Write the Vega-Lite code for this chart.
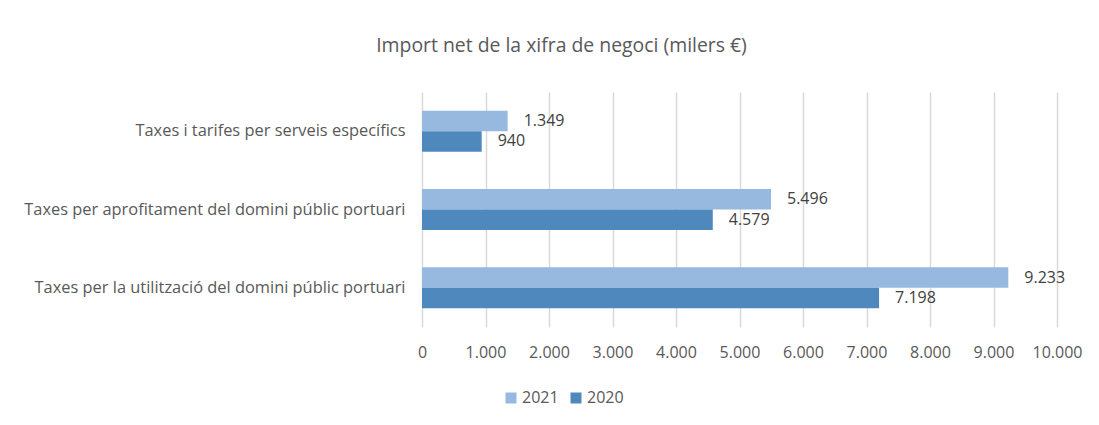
{
  "$schema": "https://vega.github.io/schema/vega-lite/v6.json",
  "autosize": {"type": "none"},
  "padding": {"left": 422, "top": 92, "right": 42, "bottom": 98},
  "width": 635,
  "height": 235,
  "background": "white",
  "config": {
    "locale": {"number": {"decimal": ",", "thousands": ".", "grouping": [3], "currency": ["", " €"]}},
    "font": "Open Sans",
    "view": {"stroke": null}
  },
  "title": {
    "text": "Import net de la xifra de negoci (milers €)",
    "font": "Open Sans",
    "fontSize": 19.4,
    "fontWeight": "normal",
    "color": "#595959",
    "anchor": "middle",
    "dx": -178,
    "offset": 36
  },
  "data": {
    "values": [
      {"concepte": "Taxes i tarifes per serveis específics", "any": "2021", "valor": 1349},
      {"concepte": "Taxes i tarifes per serveis específics", "any": "2020", "valor": 940},
      {"concepte": "Taxes per aprofitament del domini públic portuari", "any": "2021", "valor": 5496},
      {"concepte": "Taxes per aprofitament del domini públic portuari", "any": "2020", "valor": 4579},
      {"concepte": "Taxes per la utilització del domini públic portuari", "any": "2021", "valor": 9233},
      {"concepte": "Taxes per la utilització del domini públic portuari", "any": "2020", "valor": 7198}
    ]
  },
  "encoding": {
    "y": {
      "field": "concepte",
      "type": "nominal",
      "sort": null,
      "title": null,
      "scale": {"paddingInner": 0.477, "paddingOuter": 0.2385},
      "axis": {
        "domain": false,
        "ticks": false,
        "labelFont": "Open Sans",
        "labelFontSize": 16.4,
        "labelColor": "#595959",
        "labelPadding": 17,
        "labelLimit": 420
      }
    },
    "x": {
      "field": "valor",
      "type": "quantitative",
      "title": null,
      "scale": {"domain": [0, 10000]},
      "axis": {
        "values": [0, 1000, 2000, 3000, 4000, 5000, 6000, 7000, 8000, 9000, 10000],
        "format": ",d",
        "domain": false,
        "ticks": false,
        "grid": true,
        "gridColor": "#d9d9d9",
        "gridWidth": 1.5,
        "labelFont": "Open Sans",
        "labelFontSize": 16,
        "labelColor": "#595959",
        "labelPadding": 17,
        "labelOverlap": false,
        "labelFlush": false
      }
    },
    "yOffset": {"field": "any", "type": "nominal", "sort": ["2021", "2020"]}
  },
  "layer": [
    {
      "mark": {"type": "bar"},
      "encoding": {
        "color": {
          "field": "any",
          "type": "nominal",
          "sort": ["2021", "2020"],
          "scale": {"domain": ["2021", "2020"], "range": ["#97b9e0", "#4f88bd"]},
          "legend": {
            "title": null,
            "orient": "none",
            "direction": "horizontal",
            "legendX": 81,
            "legendY": 298,
            "symbolType": "square",
            "symbolSize": 121,
            "symbolStrokeWidth": 0,
            "labelFont": "Open Sans",
            "labelFontSize": 16,
            "labelColor": "#595959",
            "labelOffset": 3,
            "columnPadding": 9
          }
        }
      }
    },
    {
      "mark": {"type": "text", "align": "left", "dx": 16, "font": "Open Sans", "fontSize": 16, "color": "#404040"},
      "encoding": {
        "text": {"field": "valor", "type": "quantitative", "format": ",d"}
      }
    }
  ]
}
